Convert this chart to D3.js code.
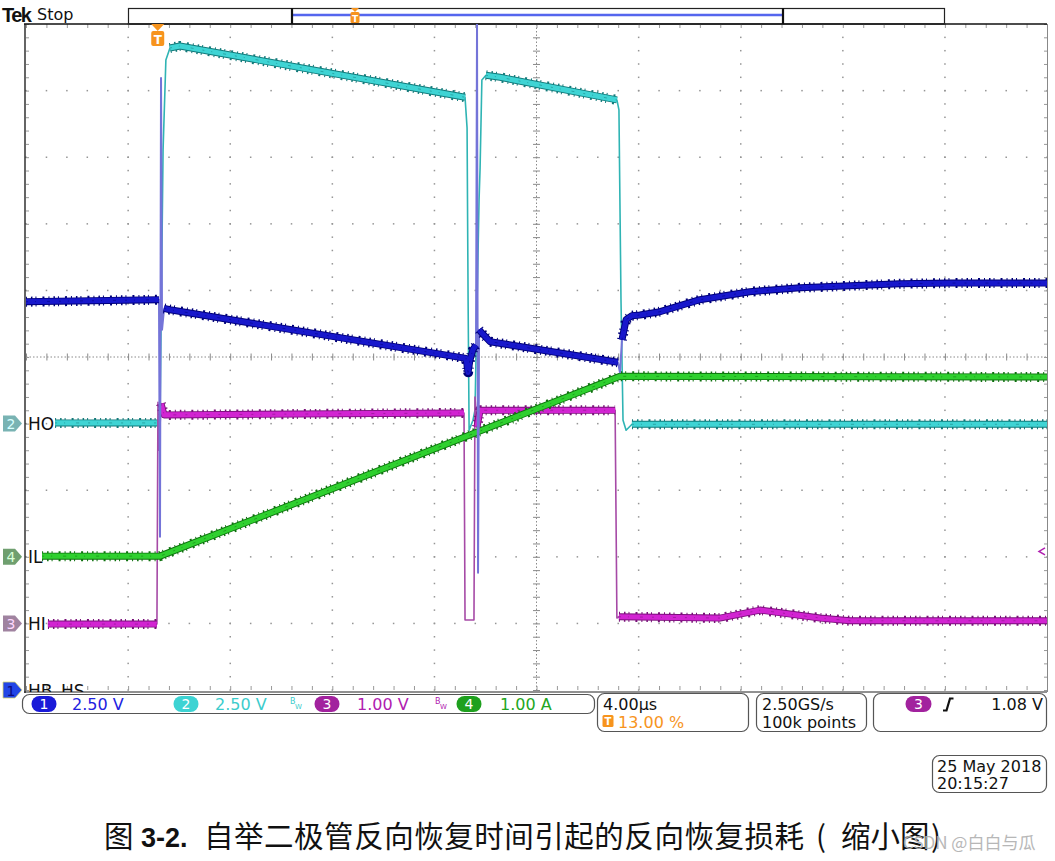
<!DOCTYPE html>
<html><head><meta charset="utf-8">
<script src="https://cdn.jsdelivr.net/npm/d3@7"></script>
<style>
html,body{margin:0;padding:0;background:#fff;}
svg{display:block;}
</style></head><body>
<svg id="c" width="1055" height="861"></svg>
<script>
// ---------- data ----------
const timeDomain = [0, 40];          // µs (10 div × 4.00 µs)
const divDomain = [-5, 5];           // vertical divisions
const triggerPos = 5.2;              // µs (13.00 %)
const trigLevelDiv = -2.92;          // ch3 level 1.08 V

// CH1 HB-HS (blue)
const ch1T = [0, 5.21, 5.25, 5.29, 5.33, 5.41, 5.64, 17.24, 17.32, 17.39, 17.51, 17.63, 17.67, 17.71, 17.75, 17.86, 18.18, 23.19, 23.27, 23.35, 23.51, 23.74, 24.05, 24.84, 26.4, 28.36, 30.32, 32.28, 34.24, 36.2, 40];
const ch1V = [0.83, 0.86, -2.70, 4.19, 0.41, 0.73, 0.71, -0.02, -0.23, -0.05, 0.11, 0.18, 5.0, -3.24, 0.41, 0.36, 0.23, -0.08, -0.23, 0.26, 0.56, 0.62, 0.63, 0.68, 0.86, 0.98, 1.04, 1.07, 1.10, 1.11, 1.11];
const ch1Bands = [[0, 5.22], [5.40, 17.64], [17.74, 23.2], [23.34, 40]];

// CH2 HO (cyan)
const ch2T = [1.14, 5.25, 5.37, 5.48, 5.64, 6.03, 17.20, 17.28, 17.32, 17.36, 17.51, 17.59, 17.75, 17.79, 17.86, 18.02, 18.57, 23.15, 23.23, 23.31, 23.39, 23.51, 23.74, 40];
const ch2V = [-0.99, -0.99, 3.11, 4.46, 4.64, 4.67, 3.90, 3.44, 0.86, -1.10, -0.95, -0.80, 2.36, 2.84, 4.16, 4.23, 4.20, 3.86, 3.71, 0.86, -0.95, -1.10, -1.01, -1.01];
const ch2Bands = [[1.1, 5.26], [5.6, 17.21], [18.0, 23.16], [23.7, 40]];

// CH3 HI (magenta)
const ch3T = [0.86, 5.13, 5.17, 5.21, 5.29, 5.41, 17.16, 17.20, 17.55, 17.59, 17.67, 17.79, 23.08, 23.15, 23.23, 27.19, 28.76, 31.11, 32.28, 40];
const ch3V = [-4.01, -4.01, -0.68, -1.40, -0.70, -0.87, -0.84, -3.95, -3.95, -0.60, -1.05, -0.80, -0.80, -3.92, -3.90, -3.92, -3.80, -3.92, -3.96, -3.96];
const ch3Bands = [[0.8, 5.14], [5.28, 17.17], [17.66, 23.09], [23.2, 40]];

// CH4 IL (green)
const ch4T = [0.63, 5.25, 23.27, 40];
const ch4V = [-2.99, -2.99, -0.29, -0.30];
const ch4Bands = [[0.6, 40]];

// labels / readouts
const chLabels = [
  {num: "2", name: "HO", off: -1, fill: "#79b3b3", txt: "#d8ffff"},
  {num: "4", name: "IL", off: -3, fill: "#6f9f6f", txt: "#d8ffd8"},
  {num: "3", name: "HI", off: -4, fill: "#a083a0", txt: "#ffd8ff"},
  {num: "1", name: "HB_HS", off: -5, fill: "#2246e6", txt: "#0c0c80"}
];
const scaleReadouts = [
  {num: "1", val: "2.50 V", badge: "#1a1ad8", col: "#2222e0", bx: 44, tx: 72, bw: false},
  {num: "2", val: "2.50 V", badge: "#3dd3d3", col: "#3ccccc", bx: 186, tx: 215, bw: true, bwx: 290, bwc: "#3ccccc"},
  {num: "3", val: "1.00 V", badge: "#a2229e", col: "#b020b0", bx: 327, tx: 357, bw: true, bwx: 435, bwc: "#b020b0"},
  {num: "4", val: "1.00 A", badge: "#1ea01e", col: "#22a622", bx: 469, tx: 500, bw: false}
];
const timebase = "4.00µs", trigPct = "13.00 %", sampleRate = "2.50GS/s", recLen = "100k points", trigVal = "1.08 V";
const dateStr = "25 May 2018", timeStr = "20:15:27";
const captionParts = ["图", "3-2.", "自举二极管反向恢复时间引起的反向恢复损耗", "(", "缩小图", ")"];
const watermark = "CSDN @白白与瓜";

// ---------- drawing ----------
const svg = d3.select("#c");
const L = 26, R = 1047, T = 24, B = 690;
const x = d3.scaleLinear().domain(timeDomain).range([L, R]);
const y = d3.scaleLinear().domain(divDomain).range([B, T]);
const font = "'DejaVu Sans', sans-serif";

// top record bar
svg.append("rect").attr("x", 128.5).attr("y", 8.5).attr("width", 816).attr("height", 15.5).attr("fill", "#fff").attr("stroke", "#222").attr("stroke-width", 1.2);
svg.append("line").attr("x1", 292).attr("x2", 783).attr("y1", 15).attr("y2", 15).attr("stroke", "#5566ee").attr("stroke-width", 2.5);
[292, 783].forEach(px => svg.append("line").attr("x1", px).attr("x2", px).attr("y1", 8).attr("y2", 24).attr("stroke", "#111").attr("stroke-width", 2.2));
svg.append("path").attr("d", "M351,8 L359,8 L355,12 Z").attr("fill", "#f7941d");
svg.append("rect").attr("x", 350.5).attr("y", 12).attr("width", 9).attr("height", 11).attr("rx", 1.5).attr("fill", "#f7941d");
svg.append("text").attr("x", 355).attr("y", 21.5).attr("text-anchor", "middle").attr("font-family", font).attr("font-size", 9).attr("font-weight", "bold").attr("fill", "#fff").text("T");

// Tek Stop
svg.append("text").attr("x", 2).attr("y", 22).attr("font-family", "'Liberation Sans', sans-serif").attr("font-weight", "bold").attr("font-size", 20).attr("letter-spacing", -1.6).attr("fill", "#111").text("Tek");
svg.append("text").attr("x", 37).attr("y", 20).attr("font-family", font).attr("font-size", 16).attr("fill", "#111").text("Stop");

// grid
const grid = svg.append("g");
const majT = d3.range(4, 40, 4);
const majV = d3.range(-4, 5, 1);
const minT = d3.range(0, 40.001, 0.8);
const minV = d3.range(-5, 5.001, 0.2);
majT.forEach(t => { if (t === 20) return; minV.forEach(v => grid.append("rect").attr("x", x(t) - 0.7).attr("y", y(v) - 0.7).attr("width", 1.5).attr("height", 1.5).attr("fill", "#959595")); });
majV.forEach(v => { if (v === 0) return; minT.forEach(t => grid.append("rect").attr("x", x(t) - 0.7).attr("y", y(v) - 0.7).attr("width", 1.5).attr("height", 1.5).attr("fill", "#959595")); });
// center crosshair
grid.append("line").attr("x1", L).attr("x2", R).attr("y1", y(0)).attr("y2", y(0)).attr("stroke", "#8a8a8a").attr("stroke-width", 1).attr("stroke-dasharray", "1.5,2");
grid.append("line").attr("x1", x(20)).attr("x2", x(20)).attr("y1", T).attr("y2", B).attr("stroke", "#8a8a8a").attr("stroke-width", 1).attr("stroke-dasharray", "1.5,2");
const hAxis = d3.axisBottom(x).tickValues(minT).tickSize(7).tickFormat("");
grid.append("g").attr("transform", `translate(0,${y(0) - 3.5})`).call(hAxis).call(g => { g.select(".domain").remove(); g.selectAll("line").attr("stroke", "#8a8a8a"); });
const vAxis = d3.axisRight(y).tickValues(minV).tickSize(7).tickFormat("");
grid.append("g").attr("transform", `translate(${x(20) - 3.5},0)`).call(vAxis).call(g => { g.select(".domain").remove(); g.selectAll("line").attr("stroke", "#8a8a8a"); });
// edge ticks
const eTop = d3.axisBottom(x).tickValues(minT).tickSize(4).tickFormat("");
grid.append("g").attr("transform", `translate(0,${T})`).call(eTop).call(g => { g.select(".domain").remove(); g.selectAll("line").attr("stroke", "#999"); });
const eBot = d3.axisTop(x).tickValues(minT).tickSize(4).tickFormat("");
grid.append("g").attr("transform", `translate(0,${B})`).call(eBot).call(g => { g.select(".domain").remove(); g.selectAll("line").attr("stroke", "#999"); });
const eLeft = d3.axisRight(y).tickValues(minV).tickSize(3).tickFormat("");
grid.append("g").attr("transform", `translate(${L},0)`).call(eLeft).call(g => { g.select(".domain").remove(); g.selectAll("line").attr("stroke", "#999"); });
const eRight = d3.axisLeft(y).tickValues(minV).tickSize(3).tickFormat("");
grid.append("g").attr("transform", `translate(${R},0)`).call(eRight).call(g => { g.select(".domain").remove(); g.selectAll("line").attr("stroke", "#999"); });

// frame
svg.append("line").attr("x1", 24).attr("x2", R).attr("y1", T).attr("y2", T).attr("stroke", "#111").attr("stroke-width", 1.3);
svg.append("line").attr("x1", 25).attr("x2", 25).attr("y1", T).attr("y2", 693).attr("stroke", "#111").attr("stroke-width", 1.3);
svg.append("line").attr("x1", 24).attr("x2", R).attr("y1", 692).attr("y2", 692).attr("stroke", "#222").attr("stroke-width", 1);
svg.append("line").attr("x1", R + 0.5).attr("x2", R + 0.5).attr("y1", T).attr("y2", 692).attr("stroke", "#888").attr("stroke-width", 1);

// clip for traces
svg.append("clipPath").attr("id", "pc").append("rect").attr("x", L).attr("y", T).attr("width", R - L).attr("height", B - T + 1);
svg.append("clipPath").attr("id", "lc").append("rect").attr("x", 0).attr("y", 0).attr("width", 200).attr("height", 692);

const traces = svg.append("g").attr("clip-path", "url(#pc)");
function drawTrace(Ts, Vs, bands, thinCol, thinW, dark, bright) {
  const pts = Ts.map((t, i) => ({t, v: Vs[i]}));
  const inBand = t => bands.some(b => t >= b[0] && t <= b[1]);
  const line = d3.line().x(d => x(d.t)).y(d => y(d.v));
  traces.append("path").attr("d", line(pts)).attr("fill", "none").attr("stroke", thinCol).attr("stroke-width", thinW).attr("stroke-linejoin", "round");
  const bl = d3.line().defined(d => inBand(d.t)).x(d => x(d.t)).y(d => y(d.v));
  const d = bl(pts);
  traces.append("path").attr("d", d).attr("fill", "none").attr("stroke", dark).attr("stroke-width", 7).attr("stroke-linejoin", "round");
  traces.append("path").attr("d", d).attr("fill", "none").attr("stroke", dark).attr("stroke-width", 10).attr("stroke-dasharray", "1,4,1.5,3,1,6,2,4").attr("stroke-linejoin", "round");
  traces.append("path").attr("d", d).attr("fill", "none").attr("stroke", bright).attr("stroke-width", 5.2).attr("stroke-linejoin", "round");
  traces.append("path").attr("d", d).attr("fill", "none").attr("stroke", dark).attr("stroke-width", 1).attr("stroke-opacity", 0.5).attr("stroke-dasharray", "2,7,1,11,3,9");
}
drawTrace(ch2T, ch2V, ch2Bands, "#2fb4b4", 1.6, "#127a7a", "#3fd4d4");
drawTrace(ch3T, ch3V, ch3Bands, "#a64aa6", 1.6, "#7a107a", "#d224d2");
drawTrace(ch4T, ch4V, ch4Bands, "#2aa82a", 1.6, "#0e720e", "#2fd02f");
drawTrace(ch1T, ch1V, ch1Bands, "#7474d8", 2, "#00007a", "#1818cc");

// trigger marker (main)
const tx = x(triggerPos) - 1;
svg.append("path").attr("d", `M${tx - 6.5},24 L${tx + 6.5},24 L${tx},31 Z`).attr("fill", "#f7941d");
svg.append("rect").attr("x", tx - 6.5).attr("y", 31).attr("width", 13).attr("height", 15).attr("rx", 2).attr("fill", "#f7941d");
svg.append("text").attr("x", tx).attr("y", 43.5).attr("text-anchor", "middle").attr("font-family", font).attr("font-weight", "bold").attr("font-size", 12).attr("fill", "#fff").text("T");
// trigger level arrow (right)
const ty = y(trigLevelDiv);
svg.append("path").attr("d", `M${R - 2},${ty - 3.5} L${R - 8},${ty} L${R - 2},${ty + 3.5}`).attr("fill", "none").attr("stroke", "#b020b0").attr("stroke-width", 1.5);

// channel markers & labels
chLabels.forEach(c => {
  const yy = y(c.off);
  svg.append("path").attr("d", `M3,${yy - 8} L15,${yy - 8} L22,${yy} L15,${yy + 8} L3,${yy + 8} Z`).attr("fill", c.fill).attr("stroke", c.num === "1" ? "#d8d870" : "none").attr("stroke-width", 0.8);
  svg.append("text").attr("x", 11).attr("y", yy + 5.5).attr("text-anchor", "middle").attr("font-family", font).attr("font-size", 14).attr("fill", c.txt).text(c.num);
  svg.append("text").attr("x", 28).attr("y", yy + 6.5).attr("font-family", font).attr("font-size", 17).attr("fill", "#111").attr("clip-path", "url(#lc)").text(c.name);
});

// status boxes
svg.append("rect").attr("x", 22.5).attr("y", 694.5).attr("width", 572).attr("height", 19).attr("rx", 7).attr("fill", "#fff").attr("stroke", "#555").attr("stroke-width", 1.2);
scaleReadouts.forEach(s => {
  svg.append("rect").attr("x", s.bx - 12.5).attr("y", 696).attr("width", 25).attr("height", 16).attr("rx", 8).attr("fill", s.badge);
  svg.append("text").attr("x", s.bx).attr("y", 709).attr("text-anchor", "middle").attr("font-family", font).attr("font-size", 14).attr("fill", "#fff").text(s.num);
  svg.append("text").attr("x", s.tx).attr("y", 710).attr("font-family", font).attr("font-size", 16).attr("fill", s.col).text(s.val);
  if (s.bw) {
    svg.append("text").attr("x", s.bwx).attr("y", 704).attr("font-family", font).attr("font-size", 8).attr("fill", s.bwc).text("B");
    svg.append("text").attr("x", s.bwx + 5).attr("y", 709).attr("font-family", font).attr("font-size", 7).attr("fill", s.bwc).text("W");
  }
});
// timebase box
svg.append("rect").attr("x", 597.5).attr("y", 693.5).attr("width", 151).attr("height", 38).attr("rx", 7).attr("fill", "#fff").attr("stroke", "#555").attr("stroke-width", 1.2);
svg.append("text").attr("x", 603).attr("y", 710).attr("font-family", font).attr("font-size", 16).attr("fill", "#111").text(timebase);
svg.append("rect").attr("x", 602.5).attr("y", 715).attr("width", 11).attr("height", 12).attr("rx", 1.5).attr("fill", "#f7941d");
svg.append("text").attr("x", 608).attr("y", 725).attr("text-anchor", "middle").attr("font-family", font).attr("font-weight", "bold").attr("font-size", 10).attr("fill", "#fff").text("T");
svg.append("text").attr("x", 618).attr("y", 727.5).attr("font-family", font).attr("font-size", 16).attr("fill", "#f7941d").text(trigPct);
// sample box
svg.append("rect").attr("x", 756.5).attr("y", 693.5).attr("width", 110).attr("height", 38).attr("rx", 7).attr("fill", "#fff").attr("stroke", "#555").attr("stroke-width", 1.2);
svg.append("text").attr("x", 762).attr("y", 710).attr("font-family", font).attr("font-size", 16).attr("fill", "#111").text(sampleRate);
svg.append("text").attr("x", 762).attr("y", 727.5).attr("font-family", font).attr("font-size", 16).attr("fill", "#111").text(recLen);
// trigger box
svg.append("rect").attr("x", 873.5).attr("y", 693.5).attr("width", 173).attr("height", 38).attr("rx", 7).attr("fill", "#fff").attr("stroke", "#555").attr("stroke-width", 1.2);
svg.append("rect").attr("x", 905.5).attr("y", 696).attr("width", 26).attr("height", 16).attr("rx", 8).attr("fill", "#a2229e");
svg.append("text").attr("x", 918.5).attr("y", 709).attr("text-anchor", "middle").attr("font-family", font).attr("font-size", 14).attr("fill", "#fff").text("3");
svg.append("path").attr("d", "M943,710.5 L946.5,710.5 L950,698.5 L953.5,698.5").attr("fill", "none").attr("stroke", "#111").attr("stroke-width", 2.2);
svg.append("text").attr("x", 1043).attr("y", 710).attr("text-anchor", "end").attr("font-family", font).attr("font-size", 16).attr("fill", "#111").text(trigVal);
// date box
svg.append("rect").attr("x", 932.5).attr("y", 755.5).attr("width", 114).attr("height", 37).attr("rx", 7).attr("fill", "#fff").attr("stroke", "#555").attr("stroke-width", 1.2);
svg.append("text").attr("x", 937).attr("y", 772).attr("font-family", font).attr("font-size", 16).attr("fill", "#111").text(dateStr);
svg.append("text").attr("x", 937).attr("y", 789).attr("font-family", font).attr("font-size", 16).attr("fill", "#111").text(timeStr);

// caption
const capFont = "'Noto Sans CJK SC', sans-serif";
const cap = svg.append("text").attr("y", 847).attr("font-family", capFont).attr("font-size", 29.5).attr("fill", "#111");
cap.append("tspan").attr("x", 104).text(captionParts[0]);
cap.append("tspan").attr("x", 141).attr("font-family", "'Liberation Sans', Arial, sans-serif").attr("font-weight", "bold").attr("font-size", 27).text(captionParts[1]);
cap.append("tspan").attr("x", 204).attr("textLength", 600).text(captionParts[2]);
cap.append("tspan").attr("x", 816).text(captionParts[3]);
cap.append("tspan").attr("x", 841).text(captionParts[4]);
cap.append("tspan").attr("x", 931).text(captionParts[5]);
// watermark
svg.append("text").attr("x", 903).attr("y", 849).attr("font-family", capFont).attr("font-size", 17).attr("fill", "#b0b0b0").attr("opacity", 0.9).text(watermark);
</script>
</body></html>
